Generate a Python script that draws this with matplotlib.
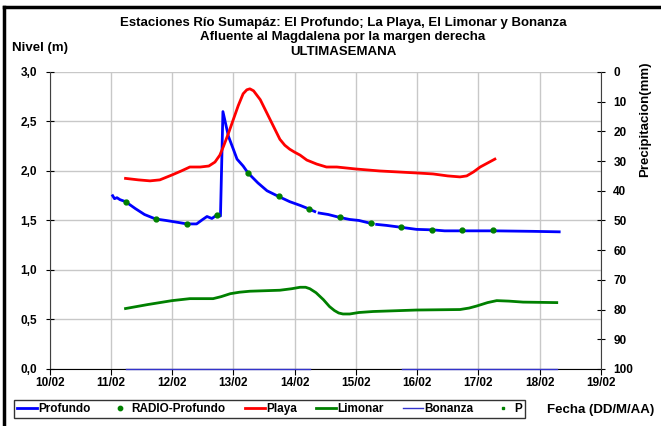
import matplotlib
matplotlib.use("Agg")
import matplotlib.pyplot as plt
import numpy as np

plt.rcParams['font.family'] = ['Liberation Sans', 'DejaVu Sans']

# Datos (dia de febrero, nivel en m)
profundo_x = [11.03, 11.06, 11.10, 11.15, 11.24, 11.40, 11.55, 11.73, 11.90, 12.00,
              12.10, 12.24, 12.40, 12.50, 12.57, 12.65, 12.73, 12.79, 12.83, 12.92,
              13.00, 13.06, 13.16, 13.24, 13.40, 13.55, 13.73, 13.92, 14.10, 14.24, 14.33,
              np.nan, 14.40, 14.55, 14.74, 14.90, 15.05, 15.25, 15.28, np.nan, 15.34,
              15.50, 15.75, 15.99, 16.25, 16.45, 16.75, 17.26, 17.89, 18.32]
profundo_y = [1.75, 1.72, 1.73, 1.71, 1.69, 1.62, 1.56, 1.515, 1.50, 1.49,
              1.48, 1.465, 1.465, 1.51, 1.54, 1.52, 1.555, 1.545, 2.60, 2.35,
              2.22, 2.12, 2.05, 1.98, 1.88, 1.80, 1.745, 1.69, 1.65, 1.615, 1.59,
              np.nan, 1.575, 1.56, 1.53, 1.51, 1.50, 1.47, 1.465, np.nan, 1.46,
              1.45, 1.43, 1.41, 1.405, 1.395, 1.395, 1.395, 1.39, 1.385]

radio_x = [11.24, 11.74, 12.24, 12.74, 13.24, 13.74, 14.24, 14.74, 15.24, 15.74,
           16.24, 16.74, 17.24]
radio_y = [1.69, 1.515, 1.465, 1.555, 1.98, 1.745, 1.615, 1.53, 1.47, 1.43,
           1.405, 1.40, 1.40]

playa_x = [11.24, 11.45, 11.64, 11.80, 12.00, 12.15, 12.29, 12.46, 12.60, 12.70,
           12.78, 12.84, 12.92, 13.00, 13.08, 13.16, 13.22, 13.27, 13.33, 13.44,
           13.52, 13.60, 13.68, 13.76, 13.84, 13.92, 14.00, 14.09, 14.20, 14.36,
           14.52, 14.69, 15.00, 15.39, 15.99, 16.26, 16.50, 16.70, 16.81, 16.92,
           17.03, 17.15, 17.27]
playa_y = [1.925, 1.91, 1.90, 1.91, 1.96, 2.00, 2.04, 2.04, 2.05, 2.09,
           2.16, 2.25, 2.38, 2.52, 2.66, 2.78, 2.82, 2.83, 2.81, 2.72,
           2.62, 2.52, 2.42, 2.32, 2.26, 2.22, 2.19, 2.16, 2.11, 2.07,
           2.04, 2.04, 2.02, 2.00, 1.98, 1.97, 1.95, 1.94, 1.95, 1.99,
           2.04, 2.08, 2.12]

limonar_x = [11.24, 11.60, 12.00, 12.29, 12.67, 12.80, 12.95, 13.10, 13.27, 13.76,
             13.95, 14.09, 14.18, 14.25, 14.35, 14.47, 14.57, 14.65, 14.72, 14.79,
             14.90, 15.05, 15.28, 15.99, 16.70, 16.85, 16.97, 17.15, 17.30, 17.50,
             17.73, 18.28]
limonar_y = [0.61, 0.65, 0.69, 0.71, 0.71, 0.73, 0.76, 0.775, 0.785, 0.795,
             0.81, 0.825, 0.825, 0.81, 0.77, 0.70, 0.63, 0.59, 0.565, 0.555,
             0.555, 0.57, 0.58, 0.595, 0.60, 0.615, 0.635, 0.67, 0.69, 0.685,
             0.675, 0.67]

bonanza_x = [11.24, 14.25, np.nan, 15.75, 18.28]
bonanza_y = [0.0, 0.0, np.nan, 0.0, 0.0]

p_x = []
p_y = []

dias = list(range(10, 20))
dia_labels = ['10/02', '11/02', '12/02', '13/02', '14/02', '15/02', '16/02',
              '17/02', '18/02', '19/02']

fig = plt.figure(figsize=(6.61, 4.26), dpi=100)
ax = fig.add_axes([0.075, 0.134, 0.834, 0.697])

ax.plot(profundo_x, profundo_y, color='#0000ff', lw=2.0, label='Profundo', zorder=3)
ax.plot(radio_x, radio_y, 'o', color='#008000', ms=3.5, label='RADIO-Profundo', zorder=4)
ax.plot(playa_x, playa_y, color='#ff0000', lw=2.0, label='Playa', zorder=3)
ax.plot(limonar_x, limonar_y, color='#008000', lw=2.0, label='Limonar', zorder=3)
ax.plot(bonanza_x, bonanza_y, color='#3333cc', lw=1.0, label='Bonanza', zorder=3,
        clip_on=False)

ax.set_xlim(10, 19)
ax.set_ylim(0, 3.0)
ax.set_xticks(dias)
ax.set_xticklabels(dia_labels, fontsize=8.5, fontweight='bold')
ax.set_yticks(np.arange(0, 3.01, 0.5))
ax.set_yticklabels([('%.1f' % v).replace('.', ',') for v in np.arange(0, 3.01, 0.5)],
                   fontsize=8.5, fontweight='bold')
ax.grid(True, color='#c8c8c8', lw=1.0)
ax.set_axisbelow(True)
ax.spines['top'].set_visible(False)
ax.spines['right'].set_visible(False)
ax.spines['left'].set_color('#404040')
ax.tick_params(axis='y', direction='inout', length=6, pad=6)
ax.tick_params(axis='x', direction='out', length=4, pad=2)

ax2 = ax.twinx()
ax2.plot(p_x, p_y, 's', color='#008000', ms=2, label='P')
ax2.set_ylim(100, 0)
ax2.set_yticks(range(0, 101, 10))
ax2.set_yticklabels([str(v) for v in range(0, 101, 10)], fontsize=8.5, fontweight='bold')
ax2.tick_params(axis='y', direction='inout', length=6, pad=6)
for s in ['top', 'left', 'bottom']:
    ax2.spines[s].set_visible(False)
ax2.spines['right'].set_color('#404040')

fig.text(0.519, 0.912, 'Estaciones Río Sumapáz: El Profundo; La Playa, El Limonar y Bonanza\n'
         'Afluente al Magdalena por la margen derecha\nULTIMASEMANA',
         ha='center', va='center', fontsize=9.5, fontweight='bold', linespacing=1.3)
fig.text(0.018, 0.887, 'Nivel (m)', fontsize=9.5, fontweight='bold', va='center')
fig.text(0.976, 0.855, 'Precipitacion(mm)', rotation=90, fontsize=9.5, fontweight='bold',
         ha='center', va='top')
fig.text(0.908, 0.037, 'Fecha (DD/M/AA)', ha='center', va='center', fontsize=9.5,
         fontweight='bold')

h1, l1 = ax.get_legend_handles_labels()
h2, l2 = ax2.get_legend_handles_labels()
leg = fig.legend(h1 + h2, l1 + l2, loc='lower left', ncol=6, mode='expand',
                 bbox_to_anchor=(0.021, 0.019, 0.773, 0.042),
                 prop={'weight': 'bold', 'size': 8.5}, frameon=True, fancybox=False,
                 handlelength=1.7, handletextpad=0.1, columnspacing=1.0,
                 borderpad=0.25, borderaxespad=0, markerscale=0.9)
leg.get_frame().set_edgecolor('black')
leg.get_frame().set_linewidth(1.0)

# borde negro de la figura
fig.add_artist(plt.Line2D([0.006, 0.006], [0, 0.983], color='black', lw=2.5,
                          transform=fig.transFigure))
fig.add_artist(plt.Line2D([0.006, 1.0], [0.983, 0.983], color='black', lw=2.5,
                          transform=fig.transFigure))

fig.savefig('out.png', dpi=100)
